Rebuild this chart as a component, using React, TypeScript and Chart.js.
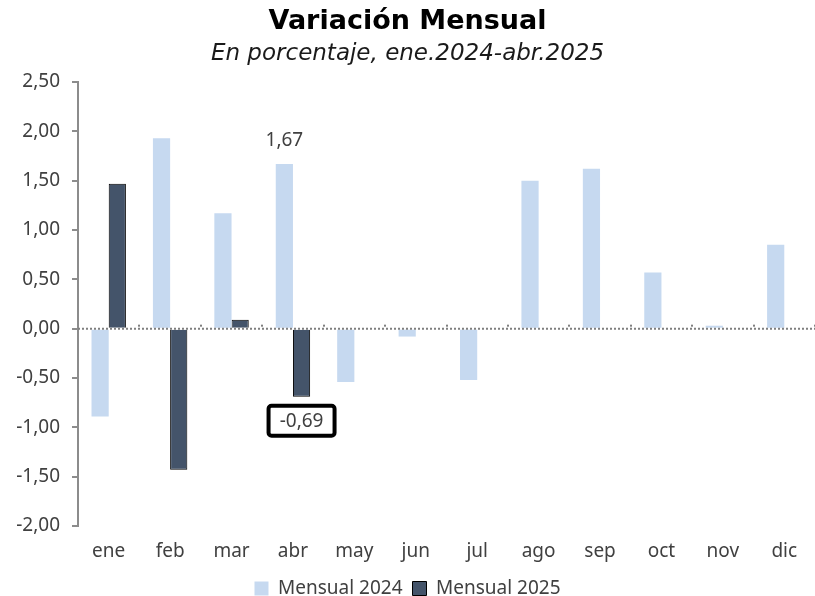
import React, { useEffect, useRef } from "react";
import { Chart, registerables } from "chart.js";

Chart.register(...registerables);

const months = ["ene", "feb", "mar", "abr", "may", "jun", "jul", "ago", "sep", "oct", "nov", "dic"];
const mensual2024 = [-0.89, 1.93, 1.17, 1.67, -0.54, -0.08, -0.52, 1.5, 1.62, 0.57, 0.03, 0.85];
const mensual2025 = [1.47, -1.43, 0.09, -0.69, null, null, null, null, null, null, null, null];
const yTicks = [2.5, 2.0, 1.5, 1.0, 0.5, 0.0, -0.5, -1.0, -1.5, -2.0];
const titleText = "Variación Mensual";
const subtitleText = "En porcentaje, ene.2024-abr.2025";
const label2024Index = 3;
const label2025Index = 3;

const FONT = "'Noto Sans', sans-serif";
const TFONT = "'DejaVu Sans', sans-serif";
const fmt = (v: number) => v.toFixed(2).replace(".", ",");

const overlayPlugin = {
  id: "overlay",
  afterDatasetsDraw(chart: any) {
    const ctx = chart.ctx;
    const y = chart.scales.y;
    const area = chart.chartArea;
    const y0 = y.getPixelForValue(0);
    ctx.save();
    ctx.strokeStyle = "#7f7f7f";
    ctx.lineWidth = 2;
    ctx.setLineDash([2, 2]);
    ctx.beginPath();
    ctx.moveTo(area.left, y0);
    ctx.lineTo(area.right, y0);
    ctx.stroke();
    ctx.setLineDash([]);
    const n = months.length;
    const step = (area.right - area.left) / n;
    ctx.fillStyle = "#7f7f7f";
    for (let i = 1; i <= n; i++) {
      const px = Math.round(area.left + step * i);
      ctx.fillRect(px - 1, y0 - 4, 2, 2);
    }
    const el0 = chart.getDatasetMeta(0).data[label2024Index];
    ctx.font = `19px ${FONT}`;
    ctx.fillStyle = "#404040";
    ctx.textAlign = "center";
    ctx.textBaseline = "middle";
    ctx.fillText(fmt(mensual2024[label2024Index]), el0.x, el0.y - 23);
    const el1 = chart.getDatasetMeta(1).data[label2025Index];
    const cx = el1.x;
    const cy = el1.y + 24;
    const w = 66, h = 30;
    ctx.lineWidth = 4;
    ctx.strokeStyle = "#000";
    ctx.fillStyle = "#fff";
    ctx.beginPath();
    (ctx as any).roundRect(cx - w / 2, cy - h / 2, w, h, 3);
    ctx.fill();
    ctx.stroke();
    ctx.fillStyle = "#404040";
    ctx.fillText(fmt(mensual2025[label2025Index] as number), cx, cy + 1);
    ctx.restore();
  },
};

export default function App() {
  const ref = useRef<HTMLCanvasElement>(null);
  useEffect(() => {
    document.body.style.margin = "0";
    const chart = new Chart(ref.current!, {
      type: "bar",
      data: {
        labels: months,
        datasets: [
          {
            label: "Mensual 2024",
            data: mensual2024,
            backgroundColor: "#c6d9f0",
            borderWidth: 0,
            categoryPercentage: 0.56,
            barPercentage: 1,
          },
          {
            label: "Mensual 2025",
            data: mensual2025 as any,
            backgroundColor: "#44546a",
            borderColor: "#000000",
            borderWidth: 1,
            categoryPercentage: 0.56,
            barPercentage: 1,
          },
        ],
      },
      options: {
        animation: false,
        responsive: false,
        maintainAspectRatio: false,
        layout: { padding: { top: 0, left: 0, right: 0, bottom: -12 } },
        plugins: {
          title: {
            display: true,
            text: titleText,
            color: "#000",
            font: { family: TFONT, size: 27, weight: "bold" },
            padding: { top: 6, bottom: 0 },
          },
          subtitle: {
            display: true,
            text: subtitleText,
            color: "#1a1a1a",
            font: { family: TFONT, size: 23, style: "italic" },
            padding: { top: 2, bottom: 14 },
          },
          legend: {
            position: "bottom",
            labels: {
              boxWidth: 14,
              boxHeight: 14,
              color: "#404040",
              font: { family: FONT, size: 19 },
              padding: 10,
            },
          },
          tooltip: { enabled: false },
        },
        scales: {
          x: {
            grid: { display: false },
            border: { display: false },
            ticks: { color: "#404040", font: { family: FONT, size: 19 }, padding: 6 },
            afterFit(scale: any) {
              scale.height = 43;
            },
          },
          y: {
            min: -2,
            max: 2.5,
            afterBuildTicks(scale: any) {
              scale.ticks = yTicks.map((v) => ({ value: v }));
            },
            afterFit(scale: any) {
              scale.width = 78;
            },
            grid: {
              drawOnChartArea: false,
              drawTicks: true,
              tickLength: 6,
              color: "#8c8c8c",
              lineWidth: 2,
            },
            border: { display: true, color: "#8c8c8c", width: 2 },
            ticks: {
              color: "#404040",
              font: { family: FONT, size: 19 },
              padding: 12,
              callback: (v: any) => fmt(Number(v)),
            },
          },
        },
      },
      plugins: [overlayPlugin],
    });
    return () => chart.destroy();
  }, []);
  return (
    <div style={{ width: 815, height: 596 }}>
      <canvas ref={ref} width={815} height={596} style={{ display: "block" }} />
    </div>
  );
}
